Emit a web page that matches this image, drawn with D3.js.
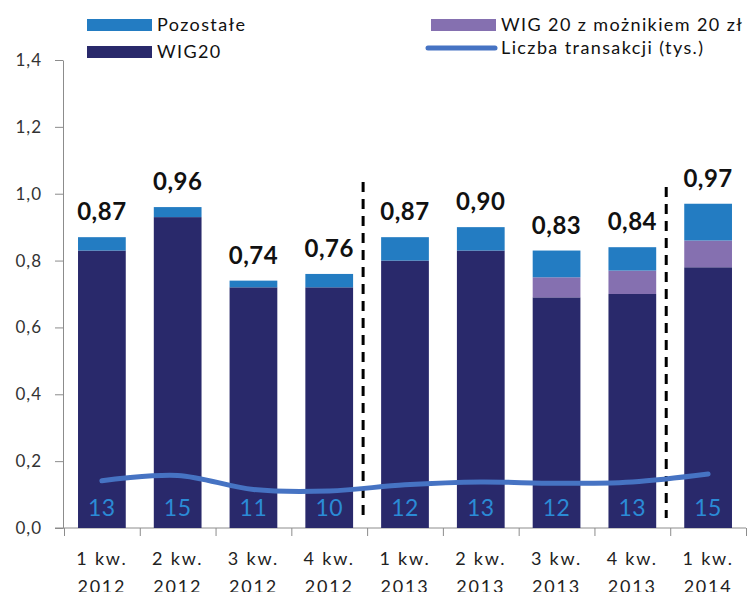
<!DOCTYPE html>
<html>
<head>
<meta charset="utf-8">
<script src="https://cdn.jsdelivr.net/npm/d3@7"></script>
<style>
  body { margin: 0; background: #fff; }
  svg { display: block; font-family: Lato, "Open Sans", sans-serif; }
</style>
</head>
<body>
<script>
// dane
const quarters = ['1 kw.', '2 kw.', '3 kw.', '4 kw.', '1 kw.', '2 kw.', '3 kw.', '4 kw.', '1 kw.'];
const years = ['2012', '2012', '2012', '2012', '2013', '2013', '2013', '2013', '2014'];
const wig20 = [0.83, 0.93, 0.72, 0.72, 0.80, 0.83, 0.69, 0.70, 0.78];
const wig20mult = [0, 0, 0, 0, 0, 0, 0.06, 0.07, 0.08];
const pozostale = [0.04, 0.03, 0.02, 0.04, 0.07, 0.07, 0.08, 0.07, 0.11];
const transakcje = [13.1, 14.6, 10.7, 10.3, 12.0, 12.8, 12.4, 12.8, 15.0];
const yTicks = [0, 0.2, 0.4, 0.6, 0.8, 1.0, 1.2, 1.4];

const width = 748;
const height = 592;

const colors = {
  wig20: '#29296b',
  mult: '#8570b0',
  rest: '#237cc2',
  line: '#4673c3',
  lineLabel: '#2b8bd6'
};

const svg = d3.select('body').append('svg')
  .attr('width', width)
  .attr('height', height);

const idx = d3.range(quarters.length);

const x = d3.scaleBand()
  .domain(idx)
  .range([64, 746])
  .paddingInner(0.37)
  .paddingOuter(0.185);

const y = d3.scaleLinear().domain([0, 1.4]).range([528, 60]);
const y2 = d3.scaleLinear().domain([0, 130]).range([528, 60]);

// osie
const yAxis = svg.append('g')
  .attr('transform', 'translate(63,0)')
  .call(d3.axisLeft(y)
    .tickValues(yTicks)
    .tickSize(8)
    .tickSizeOuter(0)
    .tickPadding(13)
    .tickFormat(d => d.toFixed(1).replace('.', ',')));
yAxis.selectAll('path, line').attr('stroke', '#8c8c8c');
yAxis.selectAll('text')
  .attr('font-size', 17)
  .attr('fill', '#333')
  .attr('letter-spacing', 1)
  .attr('font-family', 'Lato, sans-serif');

const xb = d3.scaleLinear().domain([0, quarters.length]).range([64, 746]);
const xAxis = svg.append('g')
  .attr('transform', 'translate(0,528)')
  .call(d3.axisBottom(xb)
    .tickValues(d3.range(quarters.length + 1))
    .tickSize(8)
    .tickSizeOuter(0)
    .tickFormat(''));
xAxis.select('.domain').attr('d', 'M55,0H746');
xAxis.selectAll('path, line').attr('stroke', '#8c8c8c');

// słupki
const stack = d3.stack().keys(['wig20', 'mult', 'rest'])(
  idx.map(i => ({ wig20: wig20[i], mult: wig20mult[i], rest: pozostale[i] }))
);

svg.append('g')
  .selectAll('g')
  .data(stack)
  .join('g')
  .attr('fill', d => colors[d.key])
  .selectAll('rect')
  .data(d => d.map((v, i) => ({ v, i })))
  .join('rect')
  .attr('x', d => x(d.i))
  .attr('width', x.bandwidth())
  .attr('y', d => y(d.v[1]))
  .attr('height', d => y(d.v[0]) - y(d.v[1]));

// sumy nad słupkami
svg.append('g')
  .selectAll('text')
  .data(idx)
  .join('text')
  .attr('x', i => x(i) + x.bandwidth() / 2)
  .attr('y', i => y(wig20[i] + wig20mult[i] + pozostale[i]) - 17)
  .attr('text-anchor', 'middle')
  .attr('font-size', 24)
  .attr('font-weight', 'bold')
  .attr('letter-spacing', 0.5)
  .attr('fill', '#111')
  .text(i => (wig20[i] + wig20mult[i] + pozostale[i]).toFixed(2).replace('.', ','));

// linie podziału lat
const breaks = idx.filter(i => i > 0 && years[i] !== years[i - 1]);
svg.append('g')
  .selectAll('line')
  .data(breaks)
  .join('line')
  .attr('x1', i => x(i) - x.step() * x.paddingInner() / 2 - 4)
  .attr('x2', i => x(i) - x.step() * x.paddingInner() / 2 - 4)
  .attr('y1', (i, k) => y(1.035 - k * 0.015))
  .attr('y2', y(0.03))
  .attr('stroke', '#000')
  .attr('stroke-width', 3)
  .attr('stroke-dasharray', '10,7');

// liczba transakcji
const line = d3.line()
  .x((d, i) => x(i) + x.bandwidth() / 2)
  .y(d => y2(d))
  .curve(d3.curveCatmullRom);

svg.append('path')
  .datum(transakcje)
  .attr('d', line)
  .attr('fill', 'none')
  .attr('stroke', colors.line)
  .attr('stroke-width', 5)
  .attr('stroke-linecap', 'round');

svg.append('g')
  .selectAll('text')
  .data(transakcje)
  .join('text')
  .attr('x', (d, i) => x(i) + x.bandwidth() / 2)
  .attr('y', y(0) - 12)
  .attr('text-anchor', 'middle')
  .attr('font-size', 23)
  .attr('letter-spacing', 0.5)
  .attr('fill', colors.lineLabel)
  .text(d => Math.round(d));

// etykiety osi X
const xLabels = svg.append('g')
  .selectAll('text')
  .data(idx)
  .join('text')
  .attr('text-anchor', 'middle')
  .attr('font-size', 18)
  .attr('letter-spacing', 1.8)
  .attr('fill', '#222');
xLabels.append('tspan')
  .attr('x', i => x(i) + x.bandwidth() / 2)
  .attr('y', 565)
  .text(i => quarters[i]);
xLabels.append('tspan')
  .attr('x', i => x(i) + x.bandwidth() / 2)
  .attr('y', 593)
  .text(i => years[i]);

// legenda
const legendItems = [
  { label: 'Pozostałe', color: colors.rest, type: 'rect', lx: 87, ly: 19 },
  { label: 'WIG20', color: colors.wig20, type: 'rect', lx: 87, ly: 46 },
  { label: 'WIG 20 z możnikiem 20 zł', color: colors.mult, type: 'rect', lx: 431, ly: 19 },
  { label: 'Liczba transakcji (tys.)', color: colors.line, type: 'line', lx: 431, ly: 42 }
];

const legend = svg.append('g')
  .selectAll('g')
  .data(legendItems)
  .join('g')
  .attr('transform', d => `translate(${d.lx},${d.ly})`);

legend.filter(d => d.type === 'rect')
  .append('rect')
  .attr('width', 65)
  .attr('height', 12)
  .attr('fill', d => d.color);

legend.filter(d => d.type === 'line')
  .append('line')
  .attr('x1', -3).attr('x2', 64)
  .attr('y1', 6).attr('y2', 6)
  .attr('stroke', d => d.color)
  .attr('stroke-width', 5)
  .attr('stroke-linecap', 'round');

legend.append('text')
  .attr('x', 70)
  .attr('y', 12)
  .attr('font-size', 18)
  .attr('letter-spacing', 1.4)
  .attr('fill', '#111')
  .text(d => d.label);
</script>
</body>
</html>
